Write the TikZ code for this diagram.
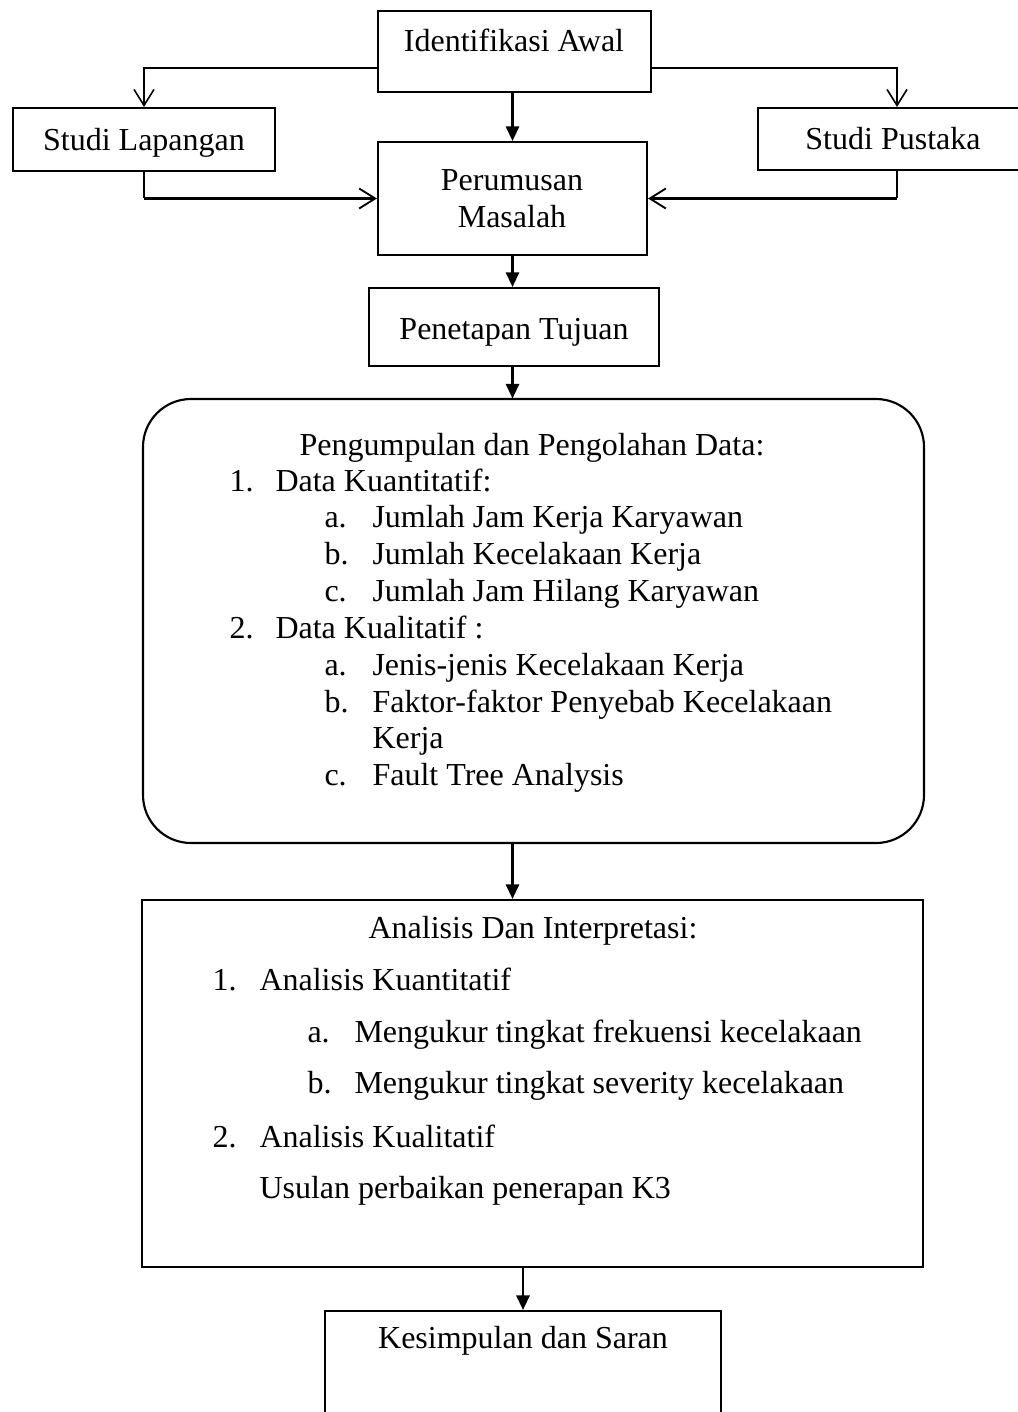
\documentclass[tikz,border=0pt]{standalone}
\usepackage{fontspec}
\setmainfont{Liberation Serif}
\usetikzlibrary{arrows.meta,fit}
\begin{document}
\begin{tikzpicture}[x=0.375pt,y=-0.375pt,
  box/.style={draw, line width=0.8pt, inner sep=0pt},
  txt/.style={inner sep=0pt, anchor=base, font=\fontsize{12pt}{14pt}\selectfont},
  ltxt/.style={txt, anchor=base west},
  solidarrow/.style={line width=0.8pt, -{Triangle[length=5.5pt,width=5pt]}},
  barb/.style={line width=0.45pt, -{Straight Barb[length=6pt,width=7.5pt,line width=0.6pt]}},
  thinline/.style={line width=0.45pt},
  thickbarb/.style={line width=0.8pt, -{Straight Barb[length=6pt,width=7.5pt,line width=0.7pt]}},
]
\useasboundingbox (0,0) rectangle (1018,1412);

% boxes
\node[box, fit={(378,11) (651,92)}] (ident) {};
\node[box, fit={(13,108) (275,171)}] (lap) {};
\node[box, fit={(758,108) (1036,170)}] (pus) {};
\node[box, fit={(378,142) (647,255)}] (rumus) {};
\node[box, fit={(369,288) (659,366)}] (tuju) {};
\draw[line width=0.8pt, rounded corners=18pt] (143,399) rectangle (924,843);
\node[inner sep=0pt, fit={(143,399) (924,843)}] (data) {};
\node[box, fit={(142,900) (923,1267)}] (anal) {};
\node[box, fit={(325,1311) (721,1440)}] (kes) {};

% texts
\node[txt] (t-ident) at (514,52) {Identifikasi Awal};
\node[txt] (t-lap) at (144,151) {Studi Lapangan};
\node[txt] (t-pus) at (893,150) {Studi Pustaka};
\node[txt] (t-rumus1) at (512,191) {Perumusan};
\node[txt] (t-rumus2) at (512,228) {Masalah};
\node[txt] (t-tuju) at (514,339) {Penetapan Tujuan};

\node[txt] (d0) at (532,455) {Pengumpulan dan Pengolahan Data:};
\node[ltxt] (d1n) at (229,491) {1.};
\node[ltxt] (d1) at (275,491) {Data Kuantitatif:};
\node[ltxt] (d1an) at (324,527) {a.};
\node[ltxt] (d1a) at (372,527) {Jumlah Jam Kerja Karyawan};
\node[ltxt] (d1bn) at (324,564) {b.};
\node[ltxt] (d1b) at (372,564) {Jumlah Kecelakaan Kerja};
\node[ltxt] (d1cn) at (324,601) {c.};
\node[ltxt] (d1c) at (372,601) {Jumlah Jam Hilang Karyawan};
\node[ltxt] (d2n) at (229,638) {2.};
\node[ltxt] (d2) at (275,638) {Data Kualitatif :};
\node[ltxt] (d2an) at (324,675) {a.};
\node[ltxt] (d2a) at (372,675) {Jenis-jenis Kecelakaan Kerja};
\node[ltxt] (d2bn) at (324,712) {b.};
\node[ltxt] (d2b) at (372,712) {Faktor-faktor Penyebab Kecelakaan};
\node[ltxt] (d2b2) at (372,748) {Kerja};
\node[ltxt] (d2cn) at (324,785) {c.};
\node[ltxt] (d2c) at (372,785) {Fault Tree Analysis};

\node[txt] (a0) at (533,938) {Analisis Dan Interpretasi:};
\node[ltxt] (a1n) at (212,990) {1.};
\node[ltxt] (a1) at (259,990) {Analisis Kuantitatif};
\node[ltxt] (a1an) at (307,1042) {a.};
\node[ltxt] (a1a) at (354,1042) {Mengukur tingkat frekuensi kecelakaan};
\node[ltxt] (a1bn) at (307,1093) {b.};
\node[ltxt] (a1b) at (354,1093) {Mengukur tingkat severity kecelakaan};
\node[ltxt] (a2n) at (212,1147) {2.};
\node[ltxt] (a2) at (259,1147) {Analisis Kualitatif};
\node[ltxt] (a3) at (259,1198) {Usulan perbaikan penerapan K3};

\node[txt] (t-kes) at (523,1348) {Kesimpulan dan Saran};

% connectors
\draw[solidarrow] (rumus.north |- ident.south) -- (rumus.north);
\draw[barb] ([yshift=-6.2pt]ident.west) -| (lap.north);
\draw[barb] ([yshift=-6.2pt]ident.east) -| (pus.north);
\draw[thinline] (lap.south) -- (lap.south |- rumus.west);
\draw[thickbarb] (lap.south |- rumus.west) -- (rumus.west);
\draw[thinline] (pus.south) -- (pus.south |- rumus.east);
\draw[thickbarb] (pus.south |- rumus.east) -- (rumus.east);
\draw[solidarrow] (rumus.south) -- (rumus.south |- tuju.north);
\draw[solidarrow] (rumus.south |- tuju.south) -- (rumus.south |- data.north);
\draw[solidarrow] (rumus.south |- data.south) -- (rumus.south |- anal.north);
\draw[solidarrow] (kes.north |- anal.south) -- (kes.north);
\end{tikzpicture}
\end{document}
